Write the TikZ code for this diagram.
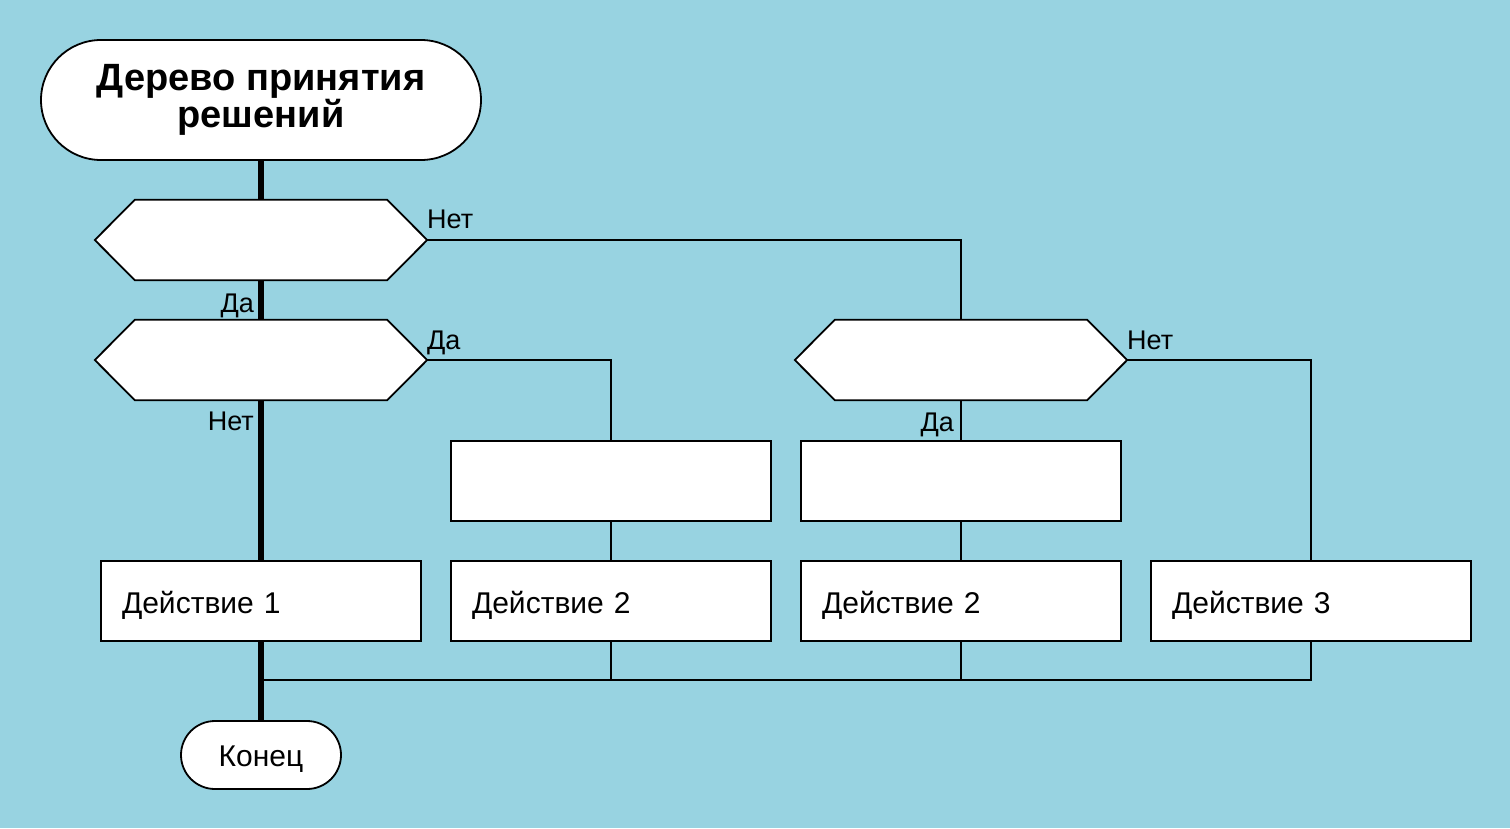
\documentclass[tikz,border=0pt]{standalone}
\usepackage{fontspec}
\setmainfont{Liberation Sans}
\usetikzlibrary{positioning}
\definecolor{bgblue}{HTML}{98D3E1}
\tikzset{
  shp/.style={draw=black, line width=1.8pt, fill=white},
  hexbox/.style={minimum width=332pt, minimum height=80pt, inner sep=0pt, draw=none},
  blank/.style={shp, minimum width=320pt, minimum height=80pt, inner sep=0pt},
  action/.style={shp, minimum width=320pt, minimum height=80pt, inner xsep=21pt, inner ysep=0pt,
     text width=278pt, align=left, text height=24pt, text depth=0pt, font=\fontsize{30}{34}\selectfont},
  lbl/.style={inner sep=0pt, font=\fontsize{27}{30}\selectfont},
  thin/.style={line width=1.8pt},
  thick/.style={line width=6pt},
}
\newcommand{\hexdraw}[1]{%
  \draw[shp] (#1.west) -- ([xshift=40pt]#1.north west) -- ([xshift=-40pt]#1.north east)
    -- (#1.east) -- ([xshift=-40pt]#1.south east) -- ([xshift=40pt]#1.south west) -- cycle;}
\begin{document}
\begin{tikzpicture}[x=1pt,y=-1pt]
\fill[bgblue] (0,0) rectangle (1510,828);
\useasboundingbox (0,0) rectangle (1510,828);

% nodes
\node[shp, minimum width=440pt, minimum height=120pt, rounded corners=60pt, align=center,
  font=\fontsize{38}{37}\selectfont\bfseries] (title) at (261,100) {Дерево принятия\\решений};
\node[hexbox] (h1) at (261,240) {};
\node[hexbox] (h2) at (261,360) {};
\node[hexbox] (h3) at (961,360) {};
\node[blank] (r2) at (611,481) {};
\node[blank] (r3) at (961,481) {};
\node[action] (a1) at (261,601) {Действие 1};
\node[action] (a2) at (611,601) {Действие 2};
\node[action] (a3) at (961,601) {Действие 2};
\node[action] (a4) at (1311,601) {Действие 3};
\node[shp, minimum width=160pt, minimum height=68pt, rounded corners=34pt, inner ysep=0pt,
  text height=22pt, text depth=0pt, font=\fontsize{30}{34}\selectfont] (end) at (261,755) {Конец};
\coordinate (j) at (261,680);

% thin connectors
\draw[thin] (h1.east) -| (h3.north);
\draw[thin] (h2.east) -| (r2.north);
\draw[thin] (r2.south) -- (a2.north);
\draw[thin] (h3.south) -- (r3.north);
\draw[thin] (r3.south) -- (a3.north);
\draw[thin] (h3.east) -| (a4.north);
\draw[thin] (a2.south) |- (j);
\draw[thin] (a3.south) |- (j);
\draw[thin] (a4.south) |- (j);

% thick main line
\draw[thick] (title.south) -- (h1.north);
\draw[thick] (h1.south) -- (h2.north);
\draw[thick] (h2.south) -- (a1.north);
\draw[thick] (a1.south) -- (end.north);

% hexagons
\hexdraw{h1}
\hexdraw{h2}
\hexdraw{h3}

% labels
\node[lbl, anchor=base west] (l1) at (427,228) {Нет};
\node[lbl, anchor=base east] (l2) at (254,312) {Да};
\node[lbl, anchor=base west] (l3) at (427,349) {Да};
\node[lbl, anchor=base east] (l4) at (254,430) {Нет};
\node[lbl, anchor=base west] (l5) at (1127,349) {Нет};
\node[lbl, anchor=base east] (l6) at (954,431) {Да};
\end{tikzpicture}
\end{document}
